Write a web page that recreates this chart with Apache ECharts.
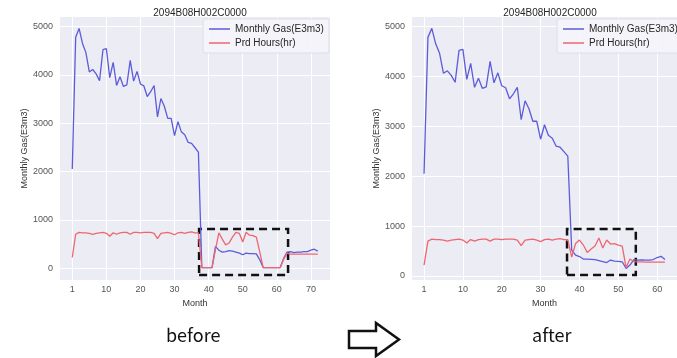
<!DOCTYPE html>
<html>
<head>
<meta charset="utf-8">
<script src="https://cdn.jsdelivr.net/npm/echarts@6/dist/echarts.min.js"></script>
<style>
  html, body { margin: 0; padding: 0; background: #ffffff; }
  #chart { width: 677px; height: 358px; }
</style>
</head>
<body>
<div id="chart"></div>
<script>
// Well identifier shown above both panels
const wellId = '2094B08H002C0000';

// Month axis: tick positions (0-based month index) and their printed labels
const monthTickPos = [0, 10, 20, 30, 40, 50, 60, 70];
const monthTickText = ['1', '10', '20', '30', '40', '50', '60', '70'];
const gasTicks = [0, 1000, 2000, 3000, 4000, 5000];

// First 38 months are common to both panels
const gasEarly = [2050, 4780, 4960, 4650, 4460, 4060, 4110, 4020, 3880, 4520,
  4540, 3940, 4260, 3780, 3960, 3760, 3790, 4300, 3870, 4070,
  3810, 3770, 3550, 3650, 3780, 3130, 3510, 3350, 3100, 3100,
  2740, 3030, 2820, 2760, 2600, 2580, 2490, 2400];
const hoursEarly = [220, 700, 740, 730, 730, 720, 700, 720, 730, 740,
  720, 660, 730, 700, 730, 740, 740, 700, 740, 740,
  730, 740, 740, 740, 720, 610, 720, 730, 740, 720,
  690, 730, 740, 720, 740, 750, 730, 730];

// Raw record (before): months 39-73
const gasTailBefore = [10, 10, 10, 10, 450, 370, 330, 340, 360, 350,
  330, 310, 275, 310, 300, 300, 295, 170, 10, 10,
  10, 10, 10, 10, 200, 330, 340, 320, 330, 330,
  340, 340, 370, 390, 350];
const hoursTailBefore = [10, 10, 10, 10, 380, 730, 600, 480, 520, 640,
  740, 720, 540, 740, 680, 670, 640, 330, 10, 10,
  10, 10, 10, 10, 180, 310, 290, 290, 290, 290,
  290, 290, 290, 290, 290];

// Cleaned record (after): months 39-63
const gasTailAfter = [520, 420, 390, 340, 340, 335, 330, 310, 290, 270,
  320, 300, 295, 285, 150, 220, 330, 320, 325, 320,
  320, 330, 370, 395, 330];
const hoursTailAfter = [380, 650, 720, 620, 470, 540, 600, 760, 560, 720,
  640, 650, 620, 600, 170, 340, 290, 285, 285, 280,
  280, 280, 280, 280, 280];

// Highlighted month/value ranges (dashed boxes)
const boxBefore = [[37.2, -143], [63.3, 809]];
const boxAfter = [[36.8, 20], [54.5, 942]];

const gasName = 'Monthly Gas(E3m3)';
const hoursName = 'Prd Hours(hr)';

const gasBefore = gasEarly.concat(gasTailBefore);
const hoursBefore = hoursEarly.concat(hoursTailBefore);
const gasAfter = gasEarly.concat(gasTailAfter);
const hoursAfter = hoursEarly.concat(hoursTailAfter);

const toPoints = vals => vals.map((v, i) => [i, v]);

const FONT = 'Liberation Sans, Arial, sans-serif';
const BLUE = '#5c5cda';
const RED = '#ee6670';
const tickColor = '#555555';
const PANEL_BG = '#ECECF4';

function xAxisFor(gridIndex, min, max) {
  return {
    gridIndex, type: 'value', min, max,
    name: 'Month', nameLocation: 'middle', nameGap: 15,
    nameTextStyle: { fontSize: 9, color: '#333', fontFamily: FONT },
    axisLine: { show: false },
    axisTick: { show: false, customValues: monthTickPos },
    axisLabel: {
      customValues: monthTickPos, margin: 5,
      fontSize: 9, color: tickColor, fontFamily: FONT,
      formatter: v => monthTickText[monthTickPos.indexOf(v)]
    },
    splitLine: { show: true, lineStyle: { color: '#ffffff', width: 1 } }
  };
}
function yAxisFor(gridIndex, min, max) {
  return {
    gridIndex, type: 'value', min, max,
    name: gasName, nameLocation: 'middle', nameGap: 31,
    nameTextStyle: { fontSize: 9, color: '#333', fontFamily: FONT },
    axisLine: { show: false },
    axisTick: { show: false, customValues: gasTicks },
    axisLabel: {
      customValues: gasTicks, margin: 7, fontSize: 9, color: tickColor, fontFamily: FONT,
      formatter: v => String(v)
    },
    splitLine: { show: true, lineStyle: { color: '#ffffff', width: 1 } }
  };
}
function lineSeries(name, data, color, idx) {
  return {
    name, type: 'line', xAxisIndex: idx, yAxisIndex: idx,
    data: toPoints(data), symbol: 'none', smooth: false,
    lineStyle: { color, width: 1.3 }, itemStyle: { color },
    z: 3
  };
}
function boxSeries(box, idx) {
  return {
    type: 'line', xAxisIndex: idx, yAxisIndex: idx, data: [], z: 10,
    markArea: {
      silent: true,
      itemStyle: { color: 'rgba(0,0,0,0)', borderColor: '#111', borderWidth: 2.5, borderType: [8, 5] },
      data: [[{ coord: box[0] }, { coord: box[1] }]]
    }
  };
}
function legendFor(left) {
  return {
    left, top: 19, orient: 'vertical',
    data: [{ name: gasName, icon: 'rect' }, { name: hoursName, icon: 'rect' }],
    itemWidth: 21, itemHeight: 1.5, itemGap: 4,
    padding: [5, 5, 5, 6],
    backgroundColor: 'rgba(246,246,250,0.85)',
    borderColor: '#dedee6', borderWidth: 1, borderRadius: 2,
    textStyle: { fontSize: 10, color: '#262626', fontFamily: FONT, lineHeight: 10 }
  };
}
function titleFor(center) {
  return {
    text: wellId, left: center, top: 3, textAlign: 'center',
    textStyle: { fontSize: 10, fontWeight: 'normal', color: '#262626', fontFamily: FONT }
  };
}

const chart = echarts.init(document.getElementById('chart'), null, { renderer: 'canvas' });
chart.setOption({
  animation: false,
  backgroundColor: '#ffffff',
  title: [titleFor(195), titleFor(545)],
  legend: [legendFor(203), legendFor(557)],
  grid: [
    { left: 60, top: 17, width: 270, height: 263, show: true, backgroundColor: PANEL_BG, borderWidth: 0 },
    { left: 412, top: 17, width: 266, height: 263, show: true, backgroundColor: PANEL_BG, borderWidth: 0 }
  ],
  xAxis: [xAxisFor(0, -3.6, 75.6), xAxisFor(1, -3.1, 65.1)],
  yAxis: [yAxisFor(0, -247, 5197), yAxisFor(1, -80, 5188)],
  series: [
    lineSeries(gasName, gasBefore, BLUE, 0),
    lineSeries(hoursName, hoursBefore, RED, 0),
    lineSeries(gasName, gasAfter, BLUE, 1),
    lineSeries(hoursName, hoursAfter, RED, 1),
    boxSeries(boxBefore, 0),
    boxSeries(boxAfter, 1)
  ],
  graphic: [
    { type: 'text', left: 196 - 30, top: 326, style: { text: 'before', fill: '#111', font: '18px "Noto Sans CJK KR", "Noto Sans", sans-serif' } },
    { type: 'polygon', shape: { points: [[349, 331], [376, 331], [376, 323], [399, 339.5], [376, 356], [376, 348], [349, 348]] },
      style: { fill: '#ffffff', stroke: '#111', lineWidth: 2.5, lineJoin: 'miter' } },
    { type: 'text', left: 554 - 22, top: 326, style: { text: 'after', fill: '#111', font: '18px "Noto Sans CJK KR", "Noto Sans", sans-serif' } }
  ]
});
</script>
</body>
</html>
